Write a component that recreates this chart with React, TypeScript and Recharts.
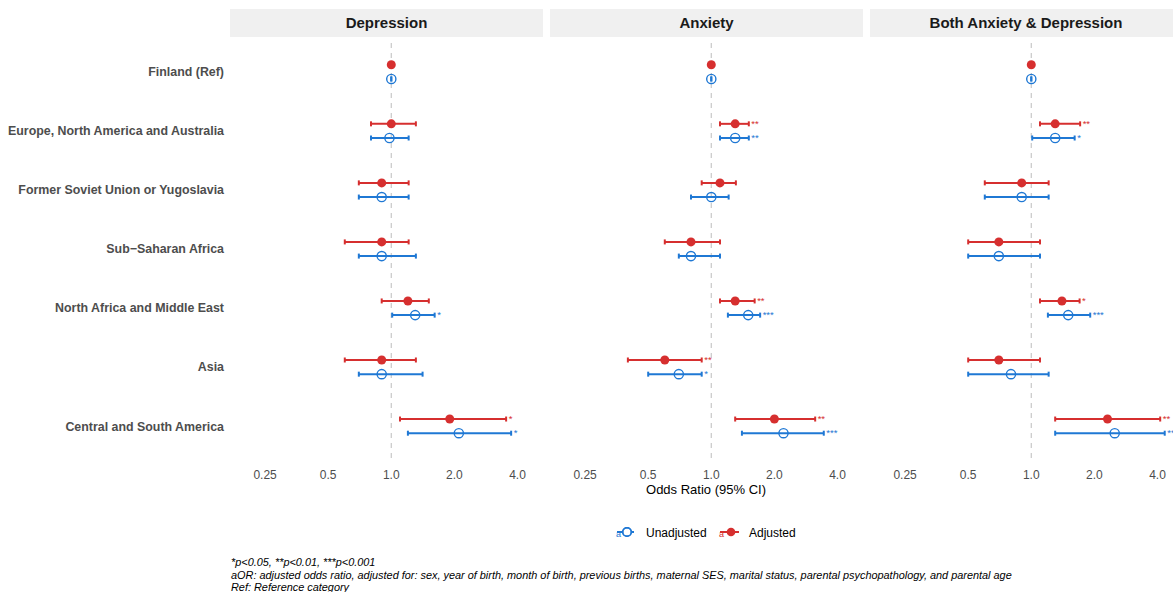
import React from 'react';
import { ScatterChart, Scatter, XAxis, YAxis, ErrorBar, ReferenceLine } from 'recharts';

const RED = '#d62f2f';
const BLUE = '#1f78d4';
const FONT = '"Liberation Sans", Arial, Helvetica, sans-serif';

const categories = [
  'Finland (Ref)',
  'Europe, North America and Australia',
  'Former Soviet Union or Yugoslavia',
  'Sub\u2212Saharan Africa',
  'North Africa and Middle East',
  'Asia',
  'Central and South America',
];
const outcomes = ['Depression', 'Anxiety', 'Both Anxiety & Depression'];
const xTickValues = [0.25, 0.5, 1, 2, 4];
const xTickLabels = ['0.25', '0.5', '1.0', '2.0', '4.0'];

// Depression
const depAdjOR = [1, 1.0, 0.9, 0.9, 1.2, 0.9, 1.9];
const depAdjLo = [1, 0.8, 0.7, 0.6, 0.9, 0.6, 1.1];
const depAdjHi = [1, 1.31, 1.21, 1.21, 1.51, 1.31, 3.53];
const depAdjSig = ['', '', '', '', '', '', '*'];
const depUnOR = [1, 0.98, 0.9, 0.9, 1.3, 0.9, 2.1];
const depUnLo = [1, 0.8, 0.7, 0.7, 1.01, 0.7, 1.2];
const depUnHi = [1, 1.21, 1.21, 1.31, 1.61, 1.41, 3.73];
const depUnSig = ['', '', '', '', '*', '', '*'];

// Anxiety
const anxAdjOR = [1, 1.3, 1.1, 0.8, 1.3, 0.6, 2.0];
const anxAdjLo = [1, 1.1, 0.9, 0.6, 1.1, 0.4, 1.3];
const anxAdjHi = [1, 1.51, 1.31, 1.1, 1.61, 0.9, 3.13];
const anxAdjSig = ['', '**', '', '', '**', '**', '**'];
const anxUnOR = [1, 1.3, 1.0, 0.8, 1.5, 0.7, 2.21];
const anxUnLo = [1, 1.1, 0.8, 0.7, 1.2, 0.5, 1.4];
const anxUnHi = [1, 1.51, 1.21, 1.1, 1.71, 0.9, 3.44];
const anxUnSig = ['', '**', '', '', '***', '*', '***'];

// Both
const bothAdjOR = [1, 1.3, 0.9, 0.7, 1.4, 0.7, 2.31];
const bothAdjLo = [1, 1.1, 0.6, 0.5, 1.1, 0.5, 1.3];
const bothAdjHi = [1, 1.71, 1.21, 1.1, 1.7, 1.1, 4.12];
const bothAdjSig = ['', '**', '', '', '*', '', '**'];
const bothUnOR = [1, 1.3, 0.9, 0.7, 1.5, 0.8, 2.5];
const bothUnLo = [1, 1.01, 0.6, 0.5, 1.2, 0.5, 1.3];
const bothUnHi = [1, 1.61, 1.21, 1.1, 1.91, 1.21, 4.33];
const bothUnSig = ['', '*', '', '', '***', '', '**'];

const footnotes = [
  '*p<0.05, **p<0.01, ***p<0.001',
  'aOR: adjusted odds ratio, adjusted for: sex, year of birth, month of birth, previous births, maternal SES, marital status, parental psychopathology, and parental age',
  'Ref: Reference category',
];

const log2 = (v: number) => Math.log(v) / Math.LN2;
const X_DOMAIN: [number, number] = [-2.556, 2.404];
const Y_DOMAIN: [number, number] = [-0.54, 6.54];
const OFFSET = 0.12;

type Series = { or: number[]; lo: number[]; hi: number[]; sig: string[] };
const panels: { adj: Series; un: Series }[] = [
  { adj: { or: depAdjOR, lo: depAdjLo, hi: depAdjHi, sig: depAdjSig }, un: { or: depUnOR, lo: depUnLo, hi: depUnHi, sig: depUnSig } },
  { adj: { or: anxAdjOR, lo: anxAdjLo, hi: anxAdjHi, sig: anxAdjSig }, un: { or: anxUnOR, lo: anxUnLo, hi: anxUnHi, sig: anxUnSig } },
  { adj: { or: bothAdjOR, lo: bothAdjLo, hi: bothAdjHi, sig: bothAdjSig }, un: { or: bothUnOR, lo: bothUnLo, hi: bothUnHi, sig: bothUnSig } },
];

function buildPoints(s: Series, off: number) {
  return categories.map((c, i) => ({
    cat: c,
    x: log2(s.or[i]),
    y: i + off,
    err: [log2(s.or[i]) - log2(s.lo[i]), log2(s.hi[i]) - log2(s.or[i])],
  }));
}
function buildStars(s: Series, off: number) {
  return categories
    .map((c, i) => ({ cat: c, x: log2(s.hi[i]), y: i + off, label: s.sig[i] }))
    .filter((d) => d.label);
}

const filledCircle = (p: any) => <circle cx={p.cx} cy={p.cy} r={4.5} fill={RED} />;
const openCircle = (p: any) => (
  <circle cx={p.cx} cy={p.cy} r={4.6} fill="none" stroke={BLUE} strokeWidth={1.4} />
);
const starShape = (color: string) => (p: any) => (
  <text x={p.cx + 2.5} y={p.cy + 3} fontSize={9.5} fill={color} fontFamily={FONT}>
    {p.payload.label}
  </text>
);

const YTick = (p: any) => (
  <text
    x={p.x}
    y={p.y}
    dy="0.355em"
    textAnchor="end"
    fontWeight="bold"
    fontSize={12.4}
    fill="#4d4d4d"
    fontFamily={FONT}
  >
    {categories[p.payload.value]}
  </text>
);

const XTick = (p: any) => (
  <text x={p.x} y={p.y} dy="0.71em" textAnchor="middle" fontSize={12} fill="#4d4d4d" fontFamily={FONT}>
    {xTickLabels[p.index]}
  </text>
);

function Panel({ idx, showY }: { idx: number; showY: boolean }) {
  const p = panels[idx];
  const adj = buildPoints(p.adj, -OFFSET);
  const un = buildPoints(p.un, OFFSET);
  const adjStars = buildStars(p.adj, -OFFSET);
  const unStars = buildStars(p.un, OFFSET);
  const yw = showY ? 230 : 0;
  return (
    <ScatterChart width={313 + yw} height={443} margin={{ top: 0, right: 0, bottom: 0, left: 0 }}>
      <XAxis
        type="number"
        dataKey="x"
        domain={X_DOMAIN}
        ticks={xTickValues.map(log2)}
        interval={0}
        allowDataOverflow
        axisLine={false}
        tickLine={false}
        tickMargin={6}
        height={25}
        tick={<XTick />}
      />
      <YAxis
        type="number"
        dataKey="y"
        domain={Y_DOMAIN}
        reversed
        allowDataOverflow
        ticks={[0, 1, 2, 3, 4, 5, 6]}
        interval={0}
        hide={!showY}
        width={yw}
        axisLine={false}
        tickLine={false}
        tickSize={0}
        tickMargin={6}
        tick={<YTick />}
      />
      <ReferenceLine x={0} stroke="#cccccc" strokeWidth={1.3} strokeDasharray="5 5" ifOverflow="extendDomain" />
      <Scatter data={un} shape={openCircle} isAnimationActive={false}>
        <ErrorBar dataKey="err" direction="x" width={2.5} stroke={BLUE} strokeWidth={2} isAnimationActive={false} />
      </Scatter>
      <Scatter data={adj} shape={filledCircle} isAnimationActive={false}>
        <ErrorBar dataKey="err" direction="x" width={2.5} stroke={RED} strokeWidth={2} isAnimationActive={false} />
      </Scatter>
      <Scatter data={unStars} shape={starShape(BLUE)} isAnimationActive={false} />
      <Scatter data={adjStars} shape={starShape(RED)} isAnimationActive={false} />
    </ScatterChart>
  );
}

const panelLefts = [230, 550, 869.5];

export default function App() {
  return (
    <div
      style={{
        position: 'absolute',
        left: 0,
        top: 0,
        width: 1173,
        height: 592,
        overflow: 'hidden',
        background: '#ffffff',
        fontFamily: FONT,
      }}
    >
      {outcomes.map((o, i) => (
        <div
          key={o}
          style={{
            position: 'absolute',
            left: panelLefts[i],
            top: 9,
            width: 313,
            height: 28,
            background: '#f0f0f0',
            color: '#1a1a1a',
            fontWeight: 'bold',
            fontSize: 15,
            lineHeight: '28px',
            textAlign: 'center',
          }}
        >
          {o}
        </div>
      ))}
      {outcomes.map((o, i) => (
        <div key={o + 'c'} style={{ position: 'absolute', left: i === 0 ? 0 : panelLefts[i], top: 40 }}>
          <Panel idx={i} showY={i === 0} />
        </div>
      ))}
      <div
        style={{
          position: 'absolute',
          left: 606,
          width: 200,
          top: 482,
          textAlign: 'center',
          fontSize: 13,
          color: '#000',
          lineHeight: '16px',
        }}
      >
        Odds Ratio (95% CI)
      </div>
      <svg style={{ position: 'absolute', left: 600, top: 520 }} width={220} height={24}>
        <g>
          <line x1={17} y1={12} x2={34} y2={12} stroke={BLUE} strokeWidth={2} />
          <circle cx={27} cy={12} r={4.3} fill="white" stroke={BLUE} strokeWidth={1.4} />
          <circle cx={27} cy={12} r={4.3} fill="none" stroke={BLUE} strokeWidth={1.4} />
          <text x={16} y={17} fontSize={9} fill={BLUE} fontFamily={FONT}>a</text>
          <text x={46} y={16.5} fontSize={12} fill="#000" fontFamily={FONT}>Unadjusted</text>
        </g>
        <g>
          <line x1={120} y1={12} x2={139} y2={12} stroke={RED} strokeWidth={2} />
          <circle cx={131} cy={12} r={4.3} fill={RED} />
          <text x={119} y={17} fontSize={9} fill={RED} fontFamily={FONT}>a</text>
          <text x={149} y={16.5} fontSize={12} fill="#000" fontFamily={FONT}>Adjusted</text>
        </g>
      </svg>
      <div
        style={{
          position: 'absolute',
          left: 231,
          top: 556,
          fontSize: 10.9,
          fontStyle: 'italic',
          lineHeight: '12.5px',
          color: '#000',
          whiteSpace: 'nowrap',
        }}
      >
        {footnotes.map((f) => (
          <div key={f}>{f}</div>
        ))}
      </div>
    </div>
  );
}
